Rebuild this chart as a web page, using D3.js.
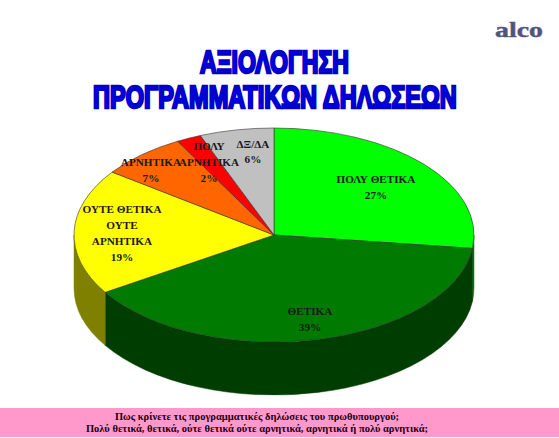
<!DOCTYPE html>
<html><head><meta charset="utf-8">
<script src="https://cdn.jsdelivr.net/npm/d3@7/dist/d3.min.js"></script>
<style>html,body{margin:0;padding:0;background:#fff;overflow:hidden}svg{display:block}</style>
</head><body><svg id="c" width="559" height="438"></svg>
<script>
const categories=["ΠΟΛΥ ΘΕΤΙΚΑ","ΘΕΤΙΚΑ","ΟΥΤΕ ΘΕΤΙΚΑ ΟΥΤΕ ΑΡΝΗΤΙΚΑ","ΑΡΝΗΤΙΚΑ","ΠΟΛΥ ΑΡΝΗΤΙΚΑ","ΔΞ/ΔΑ"];
const values=[27,39,19,7,2,6];
const topColors=["#00ff00","#007a00","#ffff00","#ff6600","#ff0000","#c0c0c0"];
const sideColors=["#007a00","#003d00","#808000","#803300","#800000","#606060"];
const labelLines=[["ΠΟΛΥ ΘΕΤΙΚΑ"],["ΘΕΤΙΚΑ"],["ΟΥΤΕ ΘΕΤΙΚΑ","ΟΥΤΕ","ΑΡΝΗΤΙΚΑ"],["ΑΡΝΗΤΙΚΑ"],["ΠΟΛΥ","ΑΡΝΗΤΙΚΑ"],["ΔΞ/ΔΑ"]];
const labelX=[376,310,122,151,209,253];
const labelY=[183,315,213,166,150,148];
const lineGap=[16,16,16,16,16,15];
const titleLines=[["ΑΞΙΟΛΟΓΗΣΗ",200,149,73],["ΠΡΟΓΡΑΜΜΑΤΙΚΩΝ ΔΗΛΩΣΕΩΝ",93,364,108]];
const questionLines=[["Πως κρίνετε τις προγραμματικές δηλώσεις του πρωθυπουργού;",420],["Πολύ θετικά, θετικά, ούτε θετικά ούτε αρνητικά, αρνητικά ή πολύ αρνητικά;",432]];

const svg=d3.select("#c");
const cx=274,cy=235,rx=200,ry=107,depth=53;
const serif="'Liberation Serif','Times New Roman',serif";
const arcs=d3.pie().sort(null).value(d=>d)(values);
const px=t=>cx+rx*Math.sin(t), py=t=>cy-ry*Math.cos(t);

svg.append("rect").attr("x",0).attr("y",408).attr("width",559).attr("height",29).attr("fill","#ff99cc");

const wall=svg.append("g");
arcs.forEach((a,i)=>{
  const t0=Math.max(a.startAngle,Math.PI/2), t1=Math.min(a.endAngle,Math.PI*1.5);
  if(t1<=t0) return;
  const d=`M${px(t0)},${py(t0)}A${rx},${ry} 0 0 1 ${px(t1)},${py(t1)}`+
          `L${px(t1)},${py(t1)+depth}A${rx},${ry} 0 0 0 ${px(t0)},${py(t0)+depth}Z`;
  wall.append("path").attr("d",d).attr("fill",sideColors[i]).attr("stroke",sideColors[i]).attr("stroke-width",0.5);
});

const arc=d3.arc().innerRadius(0).outerRadius(rx);
svg.append("g").attr("transform",`translate(${cx},${cy}) scale(1,${ry/rx})`)
  .selectAll("path").data(arcs).join("path")
  .attr("d",arc).attr("fill",(d,i)=>topColors[i])
  .attr("stroke","#333").attr("stroke-width",0.6).attr("vector-effect","non-scaling-stroke");

const lab=svg.append("g").attr("font-family",serif).attr("font-weight","bold").attr("font-size",11.2)
  .attr("text-anchor","middle").attr("fill","#1a1a1a");
categories.forEach((c,i)=>{
  labelLines[i].concat([values[i]+"%"]).forEach((l,j)=>{
    lab.append("text").attr("x",labelX[i]).attr("y",labelY[i]+j*lineGap[i]).text(l);
  });
});

// fits a text to a target width by horizontal scaling
function fit(sel,x,y,w){
  const n=sel.node().getComputedTextLength();
  sel.attr("transform",`translate(${x},${y}) scale(${w/n},1)`);
}
svg.append("g").selectAll("text").data(titleLines).join("text")
  .attr("font-family","'Liberation Sans',Arial,sans-serif").attr("font-weight","bold")
  .attr("font-size",32).attr("fill","#0000f0").attr("stroke","#0000c8").attr("stroke-width",2.6)
  .attr("stroke-linejoin","miter").text(d=>d[0])
  .each(function(d){fit(d3.select(this),d[1],d[3],d[2]);});

fit(svg.append("text").attr("font-family",serif).attr("font-weight","bold").attr("font-size",21)
  .attr("fill","#50547f").attr("stroke","#50547f").attr("stroke-width",0.4).text("alco"),495,37,48);

svg.append("g").selectAll("text").data(questionLines).join("text")
  .attr("x",257).attr("y",d=>d[1]).attr("text-anchor","middle").attr("font-family",serif)
  .attr("font-weight","bold").attr("font-size",10.5).attr("fill","#200010").text(d=>d[0]);
</script></body></html>
